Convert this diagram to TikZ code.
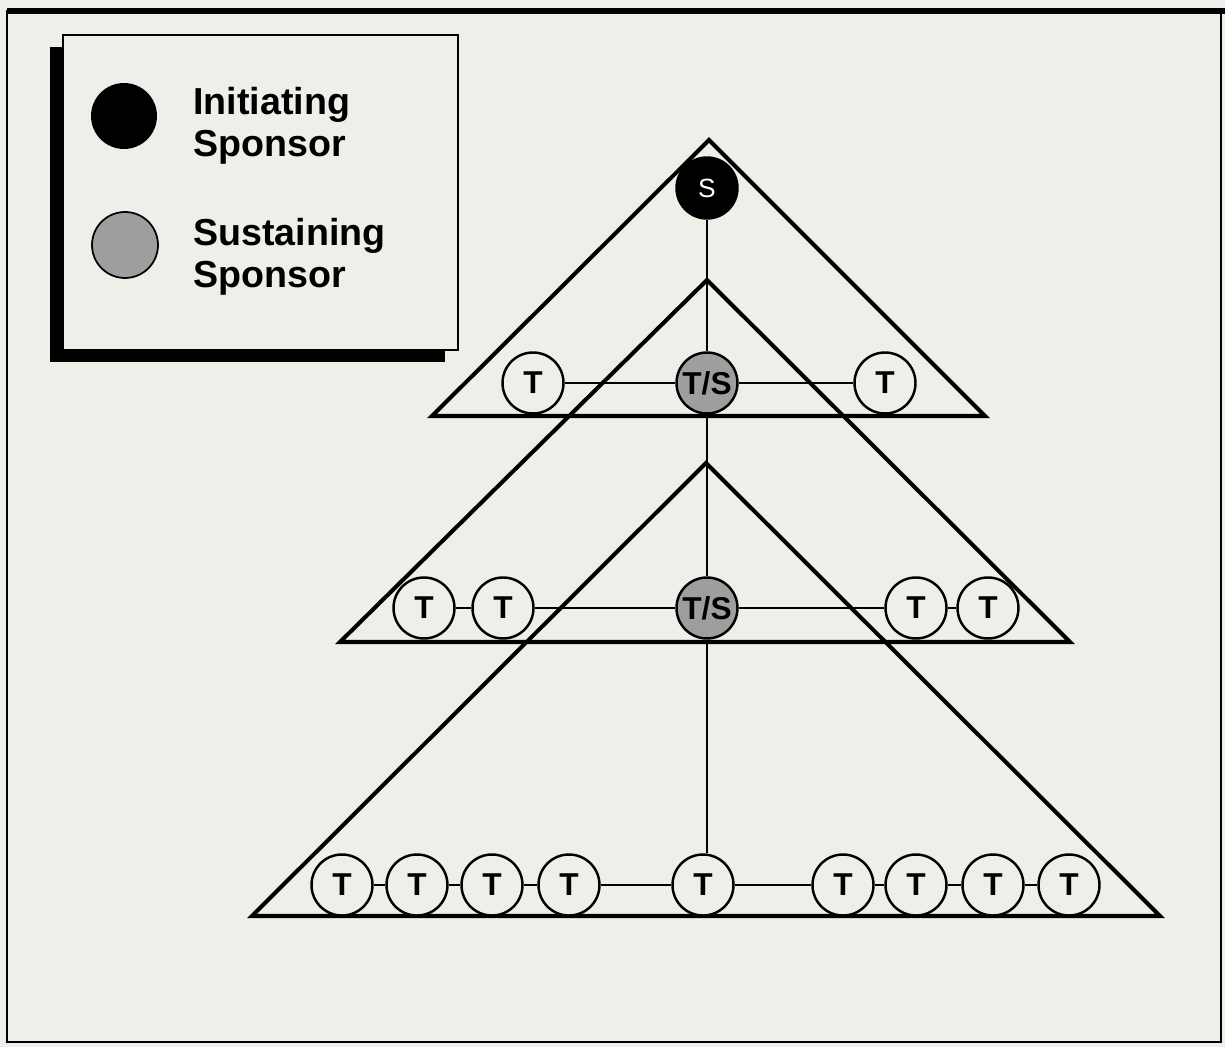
\documentclass[tikz,border=0pt]{standalone}
\usepackage{fontspec}
\setmainfont{Liberation Sans}
\definecolor{paper}{RGB}{240,238,233}
\definecolor{sustain}{RGB}{158,158,158}
\tikzset{
  pers/.style={circle, draw, line width=1.4pt, minimum size=1.22cm, inner sep=0pt,
    fill=paper, font=\fontsize{18}{18}\selectfont\bfseries},
  tnode/.style={pers},
  tsnode/.style={pers, fill=sustain},
  snode/.style={pers, fill=black, text=white, font=\fontsize{15}{15}\selectfont},
  tri/.style={line width=2.3pt, line join=miter},
  link/.style={line width=1.2pt},
  legtext/.style={anchor=west, align=left, inner sep=0pt,
    font=\fontsize{21.4}{23.8}\selectfont\bfseries}
}
\begin{document}
\begin{tikzpicture}[x=0.02cm, y=-0.02cm]
  \useasboundingbox (0,0) rectangle (1225,1047);
  \fill[paper] (0,0) rectangle (1225,1047);

  % frame
  \draw[line width=1.6pt] (7,11) rectangle (1221,1042);
  \draw[line width=3.8pt] (7,11) -- (1225,11);

  % legend
  \fill[black] (50,47) rectangle (445,362);
  \draw[fill=paper, line width=1.2pt] (63,35) rectangle (458,350);
  \node[circle, fill=black, minimum size=1.32cm, inner sep=0pt] (leginit) at (124,116) {};
  \node[circle, draw, fill=sustain, line width=1pt, minimum size=1.32cm, inner sep=0pt] (legsust) at (125,245) {};
  \node[legtext] (initlabel) at (193,126) {Initiating\\Sponsor};
  \node[legtext] (sustlabel) at (193,257) {Sustaining\\Sponsor};

  % triangles
  \draw[tri] (709,140) -- (985,416) -- (432,416) -- cycle;
  \draw[tri] (707,280) -- (1070,642) -- (340,642) -- cycle;
  \draw[tri] (706,463) -- (1160,916) -- (252,916) -- cycle;

  % top
  \node[snode] (s) at (707,188) {S};

  % first level
  \node[tnode] (a1) at (533,383) {T};
  \node[tsnode] (ts1) at (707,383) {T/S};
  \node[tnode] (a2) at (885,383) {T};

  % second level
  \node[tnode] (b1) at (424,608) {T};
  \node[tnode] (b2) at (503,608) {T};
  \node[tsnode] (ts2) at (707,608) {T/S};
  \node[tnode] (b3) at (916,608) {T};
  \node[tnode] (b4) at (988,608) {T};

  % third level
  \node[tnode] (c1) at (342,885) {T};
  \node[tnode] (c2) at (417,885) {T};
  \node[tnode] (c3) at (492,885) {T};
  \node[tnode] (c4) at (569,885) {T};
  \node[tnode] (c5) at (703,885) {T};
  \node[tnode] (c6) at (843,885) {T};
  \node[tnode] (c7) at (916,885) {T};
  \node[tnode] (c8) at (993,885) {T};
  \node[tnode] (c9) at (1069,885) {T};

  % connectors
  \draw[link] (s) -- (ts1);
  \draw[link] (ts1) -- (ts2);
  \draw[link] (ts2) -- (ts2 |- c5.north);
  \draw[link] (a1) -- (ts1);
  \draw[link] (ts1) -- (a2);
  \draw[link] (b1) -- (b2);
  \draw[link] (b2) -- (ts2);
  \draw[link] (ts2) -- (b3);
  \draw[link] (b3) -- (b4);
  \foreach \l/\r in {c1/c2, c2/c3, c3/c4, c4/c5, c5/c6, c6/c7, c7/c8, c8/c9}
    \draw[link] (\l) -- (\r);
\end{tikzpicture}
\end{document}
